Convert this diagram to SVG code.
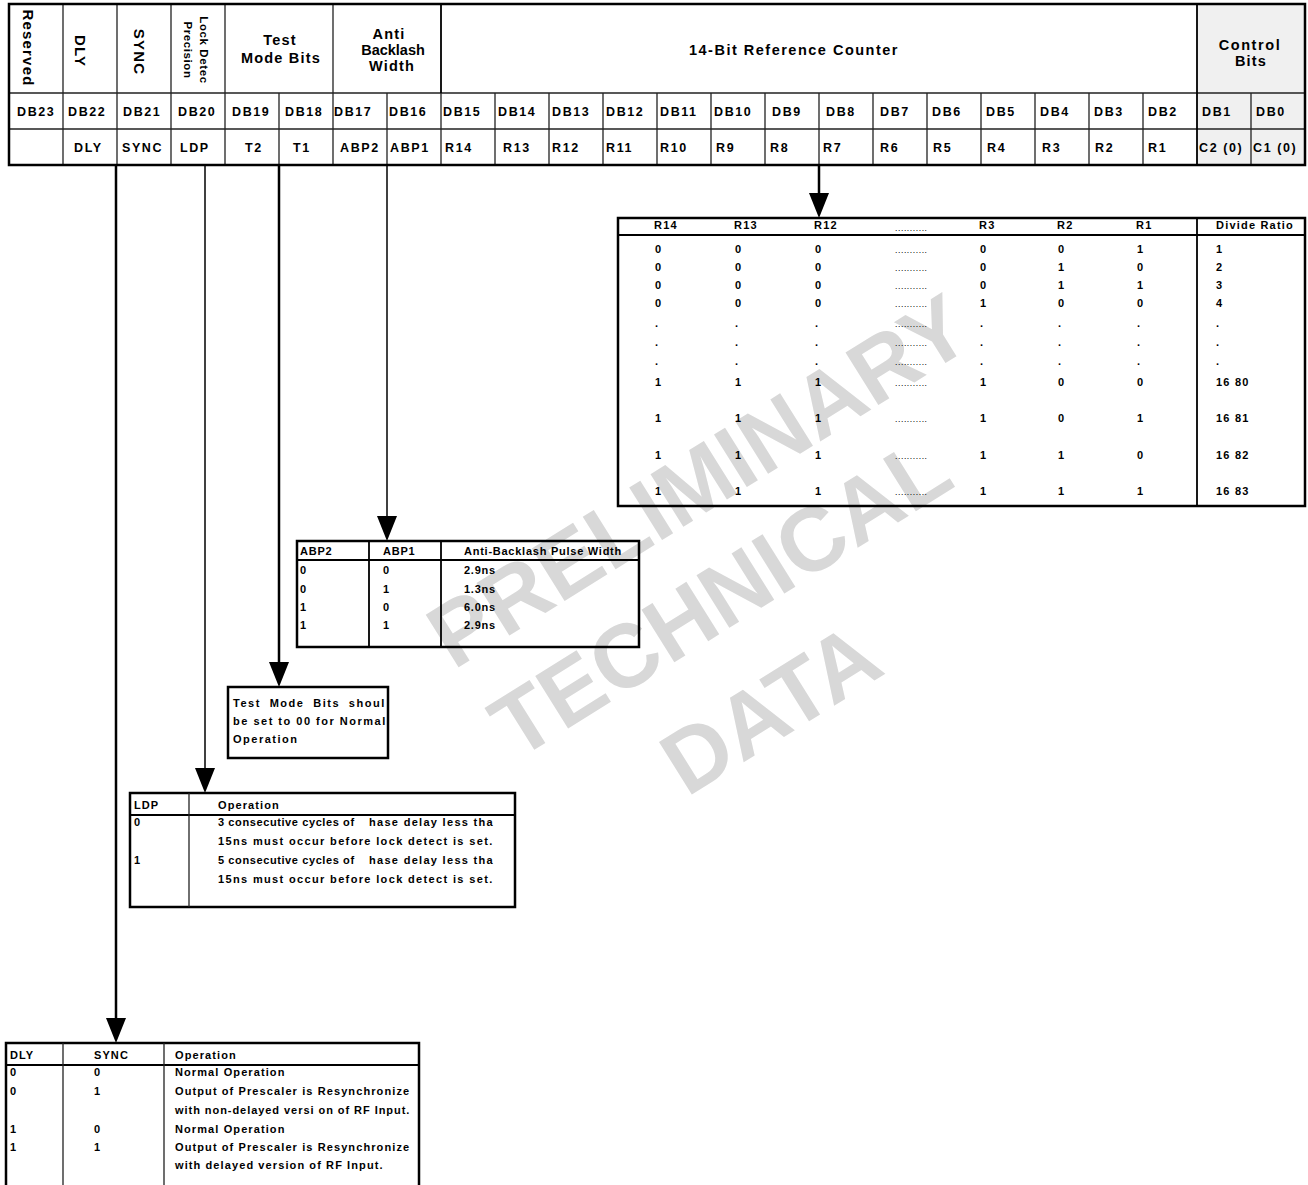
<svg xmlns="http://www.w3.org/2000/svg" width="1308" height="1185" viewBox="0 0 1308 1185">
<defs>
<style>
text{font-family:"Liberation Sans",Arial,sans-serif;font-weight:bold;fill:#000}
.h{font-size:14.5px;letter-spacing:1.2px;text-anchor:middle}
.rot{font-size:15px;letter-spacing:1.2px;text-anchor:middle}
.rots{font-size:11.5px;letter-spacing:0.6px;text-anchor:middle}
.c{font-size:12.5px;letter-spacing:1.6px}
.t{font-size:11px;letter-spacing:1.1px}
.l{font-size:11px;letter-spacing:1.35px}
.r{font-size:11px;letter-spacing:1.2px}
.a{font-size:11px;letter-spacing:0.75px}
.n{font-size:11px;letter-spacing:1.5px}
.dots{font-size:8.5px;font-weight:normal;letter-spacing:0.6px}
.wm{font-size:90px;fill:#d8d8d8;text-anchor:middle}
.grid{stroke:#222;stroke-width:1.3;fill:none}
.thick{stroke:#000;stroke-width:2.5;fill:none}
.med{stroke:#000;stroke-width:1.8;fill:none}
.conn{stroke:#000;fill:none}
</style>
<marker id="arr" viewBox="0 0 25 20" refX="13" refY="10" markerWidth="25" markerHeight="20" markerUnits="userSpaceOnUse" orient="auto"><path d="M0,0 L25,10 L0,20 Z" fill="#000"/></marker>
</defs>
<rect width="1308" height="1185" fill="#fff"/>

<g id="watermark">
<text class="wm" transform="translate(698,480) rotate(-32)" y="32">PRELIMINARY</text>
<text class="wm" transform="translate(720,596) rotate(-32)" y="32">TECHNICAL</text>
<text class="wm" transform="translate(770,708) rotate(-32)" y="32">DATA</text>
</g>

<g id="register-map">
<rect x="1197" y="4" width="108" height="161" fill="#f0f0f0"/>
<path class="grid" d="M9,93H1305M9,129H1305M63,4V165M117,4V165M171,4V165M225,4V165M333,4V165M279,93V165M387,93V165M441,93V165M495,93V165M549,93V165M603,93V165M657,93V165M711,93V165M765,93V165M819,93V165M873,93V165M927,93V165M981,93V165M1035,93V165M1089,93V165M1143,93V165M1251,93V165"/>
<path class="med" d="M441,4V93M1197,4V165"/>
<rect class="thick" x="9" y="4" width="1296" height="161"/>
<g id="hdr-reserved"><text class="rot" transform="translate(23,48) rotate(90)">Reserved</text></g>
<g id="hdr-dly"><text class="rot" transform="translate(75,51) rotate(90)">DLY</text></g>
<g id="hdr-sync"><text class="rot" transform="translate(134,52) rotate(90)">SYNC</text></g>
<g id="hdr-ldp"><text class="rots" transform="translate(200,50) rotate(90)">Lock Detec</text><text class="rots" transform="translate(184,50) rotate(90)">Precision</text></g>
<g id="hdr-test"><text class="h" x="280" y="45">Test</text><text class="h" x="281" y="63">Mode Bits</text></g>
<g id="hdr-abp"><text class="h" x="389" y="39">Anti</text><text class="h" x="393" y="55" style="letter-spacing:0px">Backlash</text><text class="h" x="392" y="71">Width</text></g>
<g id="hdr-ref"><text class="h" x="794" y="55" style="letter-spacing:1.5px">14-Bit Reference Counter</text></g>
<g id="hdr-ctrl"><text class="h" x="1250" y="50" style="letter-spacing:1.6px">Control</text><text class="h" x="1251" y="66">Bits</text></g>
<g id="db-row">
<text class="c" x="17" y="116">DB23</text><text class="c" x="68" y="116">DB22</text><text class="c" x="123" y="116">DB21</text><text class="c" x="178" y="116">DB20</text>
<text class="c" x="232" y="116">DB19</text><text class="c" x="285" y="116">DB18</text><text class="c" x="334" y="116">DB17</text><text class="c" x="389" y="116">DB16</text>
<text class="c" x="443" y="116">DB15</text><text class="c" x="498" y="116">DB14</text><text class="c" x="552" y="116">DB13</text><text class="c" x="606" y="116">DB12</text>
<text class="c" x="660" y="116">DB11</text><text class="c" x="714" y="116">DB10</text><text class="c" x="772" y="116">DB9</text><text class="c" x="826" y="116">DB8</text>
<text class="c" x="880" y="116">DB7</text><text class="c" x="932" y="116">DB6</text><text class="c" x="986" y="116">DB5</text><text class="c" x="1040" y="116">DB4</text>
<text class="c" x="1094" y="116">DB3</text><text class="c" x="1148" y="116">DB2</text><text class="c" x="1202" y="116">DB1</text><text class="c" x="1256" y="116">DB0</text>
</g>
<g id="value-row">
<text class="c" x="74" y="152">DLY</text><text class="c" x="122" y="152">SYNC</text><text class="c" x="180" y="152">LDP</text>
<text class="c" x="245" y="152">T2</text><text class="c" x="293" y="152">T1</text><text class="c" x="340" y="152">ABP2</text><text class="c" x="390" y="152">ABP1</text>
<text class="c" x="445" y="152">R14</text><text class="c" x="503" y="152">R13</text><text class="c" x="552" y="152">R12</text><text class="c" x="606" y="152">R11</text>
<text class="c" x="660" y="152">R10</text><text class="c" x="716" y="152">R9</text><text class="c" x="770" y="152">R8</text><text class="c" x="823" y="152">R7</text>
<text class="c" x="880" y="152">R6</text><text class="c" x="933" y="152">R5</text><text class="c" x="987" y="152">R4</text><text class="c" x="1042" y="152">R3</text>
<text class="c" x="1095" y="152">R2</text><text class="c" x="1148" y="152">R1</text><text class="c" x="1199" y="152">C2 (0)</text><text class="c" x="1253" y="152">C1 (0)</text>
</g>
</g>

<g id="connectors" class="conn">
<line x1="116" y1="165" x2="116" y2="1031" stroke-width="2.5" marker-end="url(#arr)"/>
<line x1="205" y1="165" x2="205" y2="781" stroke-width="1.5" marker-end="url(#arr)"/>
<line x1="279" y1="165" x2="279" y2="675" stroke-width="2.5" marker-end="url(#arr)"/>
<line x1="387" y1="165" x2="387" y2="529" stroke-width="1.5" marker-end="url(#arr)"/>
<line x1="819" y1="165" x2="819" y2="206" stroke-width="2.5" marker-end="url(#arr)"/>
</g>

<g id="r-table">
<rect class="thick" x="618" y="218" width="687" height="288"/>
<path class="med" d="M618,235H1305M1197,218V506"/>
<text class="r" x="654" y="229">R14</text><text class="r" x="734" y="229">R13</text><text class="r" x="814" y="229">R12</text><text class="dots" x="895" y="231">...........</text><text class="r" x="979" y="229">R3</text><text class="r" x="1057" y="229">R2</text><text class="r" x="1136" y="229">R1</text><text class="r" x="1216" y="229">Divide Ratio</text>

<text class="r" x="655" y="253">0</text><text class="r" x="735" y="253">0</text><text class="r" x="815" y="253">0</text><text class="dots" x="895" y="253">...........</text><text class="r" x="980" y="253">0</text><text class="r" x="1058" y="253">0</text><text class="r" x="1137" y="253">1</text><text class="r" x="1216" y="253">1</text>
<text class="r" x="655" y="271">0</text><text class="r" x="735" y="271">0</text><text class="r" x="815" y="271">0</text><text class="dots" x="895" y="271">...........</text><text class="r" x="980" y="271">0</text><text class="r" x="1058" y="271">1</text><text class="r" x="1137" y="271">0</text><text class="r" x="1216" y="271">2</text>
<text class="r" x="655" y="289">0</text><text class="r" x="735" y="289">0</text><text class="r" x="815" y="289">0</text><text class="dots" x="895" y="289">...........</text><text class="r" x="980" y="289">0</text><text class="r" x="1058" y="289">1</text><text class="r" x="1137" y="289">1</text><text class="r" x="1216" y="289">3</text>
<text class="r" x="655" y="307">0</text><text class="r" x="735" y="307">0</text><text class="r" x="815" y="307">0</text><text class="dots" x="895" y="307">...........</text><text class="r" x="980" y="307">1</text><text class="r" x="1058" y="307">0</text><text class="r" x="1137" y="307">0</text><text class="r" x="1216" y="307">4</text>

<text class="r" x="655" y="327">.</text><text class="r" x="735" y="327">.</text><text class="r" x="815" y="327">.</text><text class="dots" x="895" y="327">...........</text><text class="r" x="980" y="327">.</text><text class="r" x="1058" y="327">.</text><text class="r" x="1137" y="327">.</text><text class="r" x="1216" y="327">.</text>
<text class="r" x="655" y="346">.</text><text class="r" x="735" y="346">.</text><text class="r" x="815" y="346">.</text><text class="dots" x="895" y="346">...........</text><text class="r" x="980" y="346">.</text><text class="r" x="1058" y="346">.</text><text class="r" x="1137" y="346">.</text><text class="r" x="1216" y="346">.</text>
<text class="r" x="655" y="365">.</text><text class="r" x="735" y="365">.</text><text class="r" x="815" y="365">.</text><text class="dots" x="895" y="365">...........</text><text class="r" x="980" y="365">.</text><text class="r" x="1058" y="365">.</text><text class="r" x="1137" y="365">.</text><text class="r" x="1216" y="365">.</text>

<text class="r" x="655" y="386">1</text><text class="r" x="735" y="386">1</text><text class="r" x="815" y="386">1</text><text class="dots" x="895" y="386">...........</text><text class="r" x="980" y="386">1</text><text class="r" x="1058" y="386">0</text><text class="r" x="1137" y="386">0</text><text class="r" x="1216" y="386">16 80</text>
<text class="r" x="655" y="422">1</text><text class="r" x="735" y="422">1</text><text class="r" x="815" y="422">1</text><text class="dots" x="895" y="422">...........</text><text class="r" x="980" y="422">1</text><text class="r" x="1058" y="422">0</text><text class="r" x="1137" y="422">1</text><text class="r" x="1216" y="422">16 81</text>
<text class="r" x="655" y="459">1</text><text class="r" x="735" y="459">1</text><text class="r" x="815" y="459">1</text><text class="dots" x="895" y="459">...........</text><text class="r" x="980" y="459">1</text><text class="r" x="1058" y="459">1</text><text class="r" x="1137" y="459">0</text><text class="r" x="1216" y="459">16 82</text>
<text class="r" x="655" y="495">1</text><text class="r" x="735" y="495">1</text><text class="r" x="815" y="495">1</text><text class="dots" x="895" y="495">...........</text><text class="r" x="980" y="495">1</text><text class="r" x="1058" y="495">1</text><text class="r" x="1137" y="495">1</text><text class="r" x="1216" y="495">16 83</text>
</g>

<g id="abp-table">
<rect class="thick" x="297" y="541" width="342" height="106"/>
<path class="med" d="M297,560H639M369,541V647M441,541V647"/>
<text class="a" x="300" y="555">ABP2</text><text class="a" x="383" y="555">ABP1</text><text class="a" x="464" y="555">Anti-Backlash Pulse Width</text>
<text class="a" x="300" y="574">0</text><text class="a" x="383" y="574">0</text><text class="a" x="464" y="574">2.9ns</text>
<text class="a" x="300" y="593">0</text><text class="a" x="383" y="593">1</text><text class="a" x="464" y="593">1.3ns</text>
<text class="a" x="300" y="611">1</text><text class="a" x="383" y="611">0</text><text class="a" x="464" y="611">6.0ns</text>
<text class="a" x="300" y="629">1</text><text class="a" x="383" y="629">1</text><text class="a" x="464" y="629">2.9ns</text>
</g>

<g id="test-note">
<rect class="thick" x="228" y="687" width="160" height="71"/>
<text class="n" x="233" y="707" style="word-spacing:4.3px">Test Mode Bits shoul</text>
<text class="n" x="233" y="725">be set to 00 for Normal</text>
<text class="n" x="233" y="743">Operation</text>
</g>

<g id="ldp-table">
<rect class="thick" x="130" y="793" width="385" height="114"/>
<path class="med" d="M130,815H515"/>
<path class="grid" d="M189,793V907"/>
<text class="t" x="134" y="809">LDP</text><text class="t" x="218" y="809">Operation</text>
<text class="t" x="134" y="826">0</text><text class="l" x="218" y="826" style="letter-spacing:0.6px">3 consecutive cycles of <tspan x="369" style="letter-spacing:1.3px">hase delay less tha</tspan></text>
<text class="l" x="218" y="845">15ns must occur before lock detect is set.</text>
<text class="t" x="134" y="864">1</text><text class="l" x="218" y="864" style="letter-spacing:0.6px">5 consecutive cycles of <tspan x="369" style="letter-spacing:1.3px">hase delay less tha</tspan></text>
<text class="l" x="218" y="883">15ns must occur before lock detect is set.</text>
</g>

<g id="dly-sync-table">
<rect class="thick" x="6" y="1043" width="413" height="160"/>
<path class="med" d="M6,1065H419"/>
<path class="grid" d="M63,1043V1185M164,1043V1185"/>
<text class="t" x="10" y="1059">DLY</text><text class="t" x="94" y="1059">SYNC</text><text class="t" x="175" y="1059">Operation</text>
<text class="t" x="10" y="1076">0</text><text class="t" x="94" y="1076">0</text><text class="t" x="175" y="1076">Normal Operation</text>
<text class="t" x="10" y="1095">0</text><text class="t" x="94" y="1095">1</text><text class="t" x="175" y="1095">Output of Prescaler is Resynchronize</text>
<text class="t" x="175" y="1114" style="letter-spacing:0.95px">with non-delayed versi on of RF Input.</text>
<text class="t" x="10" y="1133">1</text><text class="t" x="94" y="1133">0</text><text class="t" x="175" y="1133">Normal Operation</text>
<text class="t" x="10" y="1151">1</text><text class="t" x="94" y="1151">1</text><text class="t" x="175" y="1151">Output of Prescaler is Resynchronize</text>
<text class="t" x="175" y="1169">with delayed version of RF Input.</text>
</g>
</svg>
